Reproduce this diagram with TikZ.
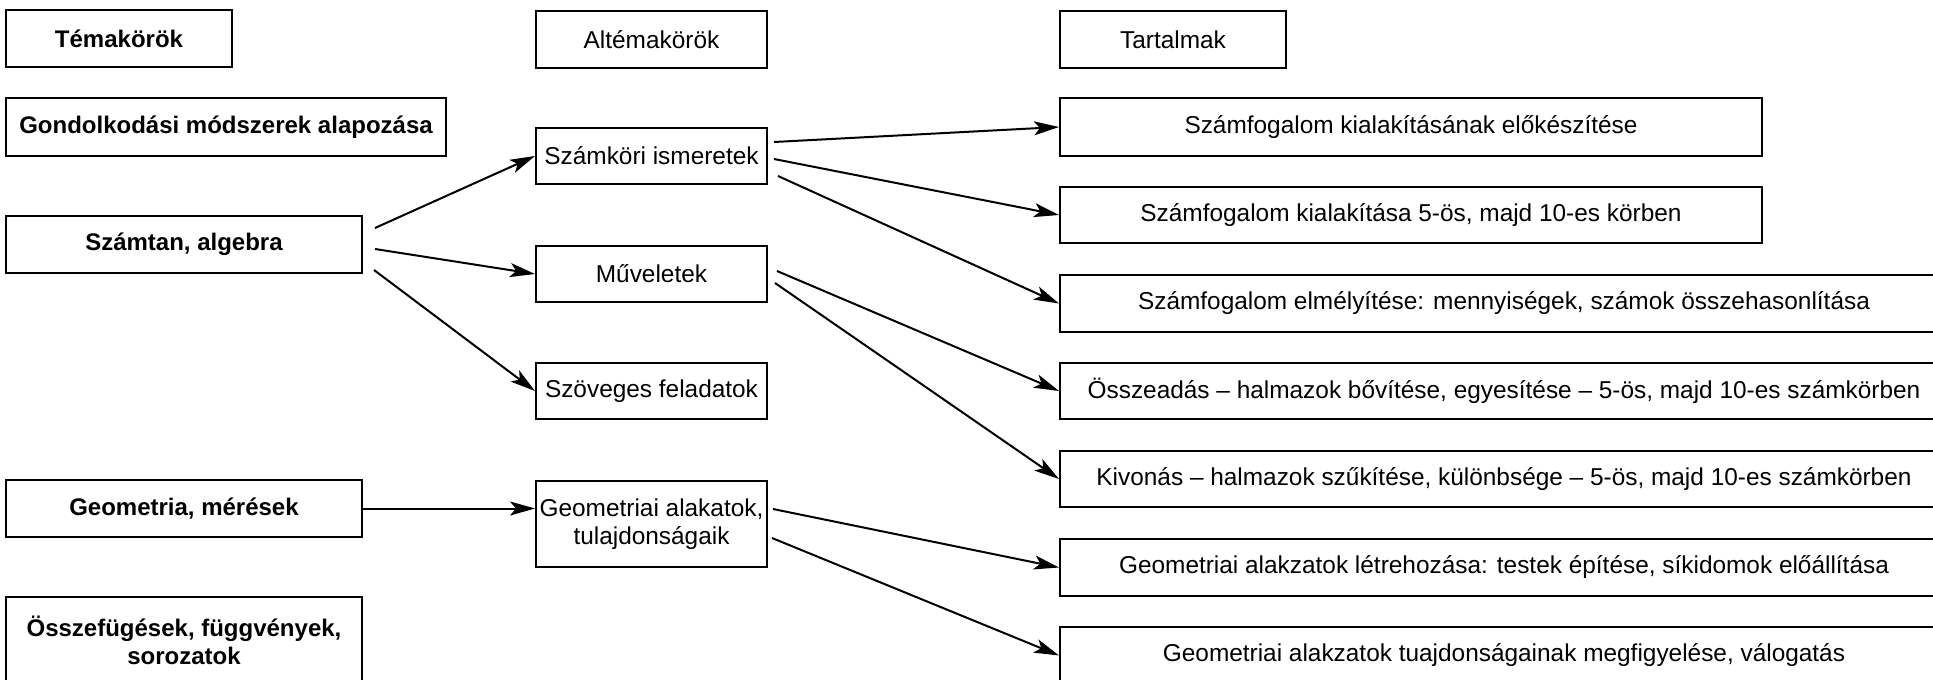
\documentclass[tikz,border=0pt]{standalone}
\usepackage{fontspec}
\setmainfont{Liberation Sans}
\usetikzlibrary{arrows.meta}
\tikzset{
  box/.style={draw, line width=1pt, rectangle, inner sep=0pt, align=center,
    font=\fontsize{12.2}{14}\selectfont, minimum height=28.5pt},
  hbox/.style={box, font=\fontsize{12}{14}\selectfont\bfseries},
  conn/.style={line width=1pt, -{Stealth[length=12.5pt,width=7pt,inset=3pt]}}
}
\begin{document}
\begin{tikzpicture}[x=0.5pt,y=-0.5pt]
\clip (0,0) rectangle (1933,680);
% column 1
\node[hbox, minimum width=113pt] (tem) at (119,38.5) {Témakörök};
\node[hbox, minimum width=220pt, minimum height=29pt] (gon) at (226,127) {Gondolkodási módszerek alapozása};
\node[hbox, minimum width=178pt] (szam) at (184,244.5) {Számtan, algebra};
\node[hbox, minimum width=178pt] (geo) at (184,508.5) {Geometria, mérések};
\node[hbox, minimum width=178pt, minimum height=43pt] (ossz) at (184,640) {Összefügések, függvények,\\sorozatok};
% column 2
\node[box, minimum width=115.5pt] (alt) at (651.5,39.5) {Altémakörök};
\node[box, minimum width=115.5pt, minimum height=28pt] (sk) at (651.5,156) {Számköri ismeretek};
\node[box, minimum width=115.5pt, minimum height=28pt] (muv) at (651.5,274) {Műveletek};
\node[box, minimum width=115.5pt, minimum height=28pt] (szov) at (651.5,391) {Szöveges feladatok};
\node[box, minimum width=115.5pt, minimum height=43pt] (gal) at (651.5,524) {Geometriai alakatok,\\tulajdonságaik};
% column 3
\node[box, minimum width=113pt] (tart) at (1173,39.5) {Tartalmak};
\node[box, minimum width=351pt, minimum height=29pt] (t1) at (1411,127) {Számfogalom kialakításának előkészítése};
\node[box, minimum width=351pt, minimum height=28pt] (t2) at (1411,215) {Számfogalom kialakítása 5-ös, majd 10-es körben};
\node[box, minimum width=444pt] (t3) at (1504,303.5) {Számfogalom elmélyítése: mennyiségek, számok összehasonlítása};
\node[box, minimum width=444pt, minimum height=28pt] (t4) at (1504,391) {Összeadás – halmazok bővítése, egyesítése – 5-ös, majd 10-es számkörben};
\node[box, minimum width=444pt, minimum height=28pt] (t5) at (1504,479) {Kivonás – halmazok szűkítése, különbsége – 5-ös, majd 10-es számkörben};
\node[box, minimum width=444pt] (t6) at (1504,567.5) {Geometriai alakzatok létrehozása: testek építése, síkidomok előállítása};
\node[box, minimum width=444pt] (t7) at (1504,655.5) {Geometriai alakzatok tuajdonságainak megfigyelése, válogatás};
% connectors
\draw[conn] ([shift={(12,-16.5)}]szam.east) -- (sk.west);
\draw[conn] ([shift={(12,4.5)}]szam.east) -- (muv.west);
\draw[conn] ([shift={(11,25.5)}]szam.east) -- (szov.west);
\draw[conn] (geo.east) -- (geo.east -| gal.west);
\draw[conn] ([shift={(6,-14)}]sk.east) -- (t1.west);
\draw[conn] ([shift={(6,3)}]sk.east) -- (t2.west);
\draw[conn] ([shift={(10,20)}]sk.east) -- (t3.west);
\draw[conn] ([shift={(9,-3)}]muv.east) -- (t4.west);
\draw[conn] ([shift={(7,9)}]muv.east) -- (t5.west);
\draw[conn] ([shift={(5,-15)}]gal.east) -- (t6.west);
\draw[conn] ([shift={(4,14)}]gal.east) -- (t7.west);
\end{tikzpicture}
\end{document}
